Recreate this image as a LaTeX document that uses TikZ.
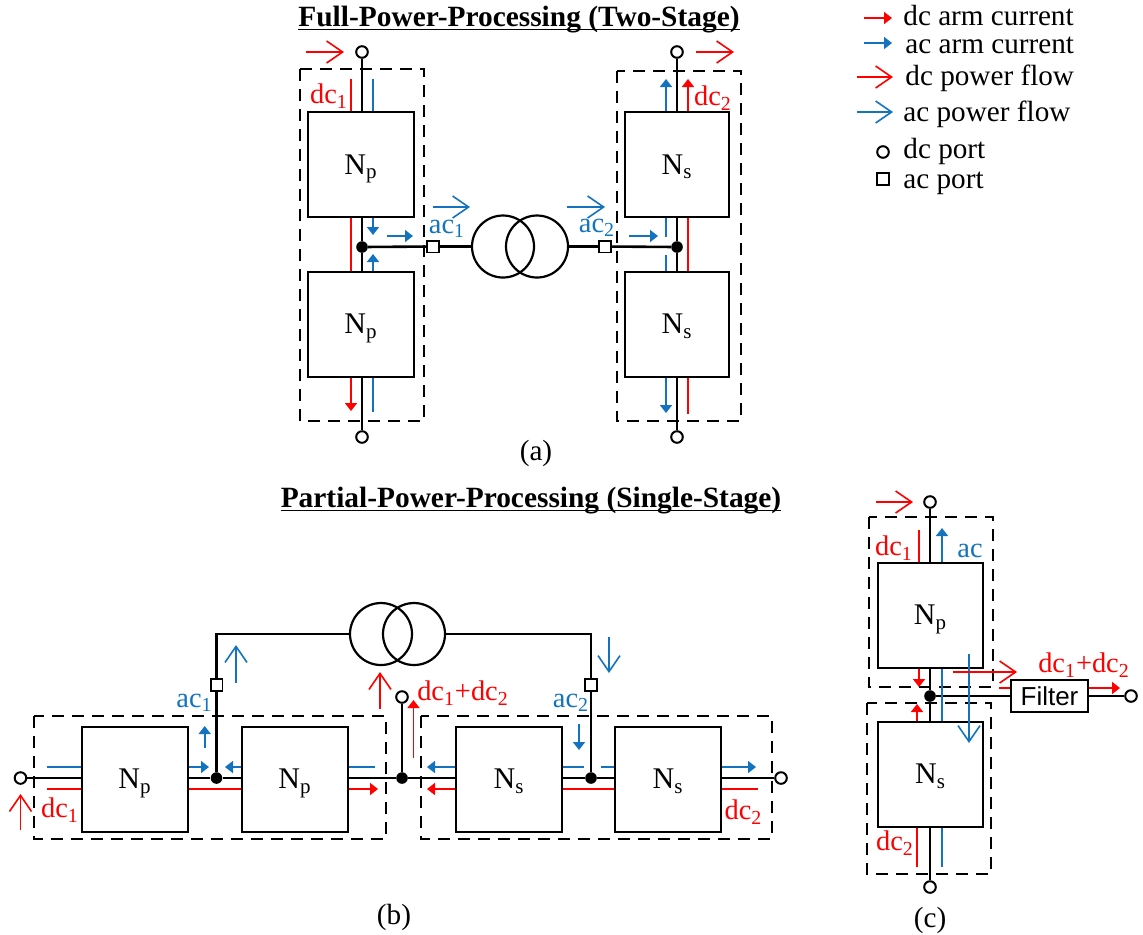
\documentclass[tikz,border=0pt]{standalone}
\usepackage{fontspec}
\setmainfont{Liberation Serif}
\setsansfont{Liberation Sans}
\usetikzlibrary{arrows.meta}
\definecolor{dcred}{RGB}{255,0,0}
\definecolor{acblue}{RGB}{20,115,190}
\newcommand{\bodyfont}{\fontsize{14.6}{18}\selectfont}
\newcommand{\labelfont}{\fontsize{14.2}{16}\selectfont}
\newcommand{\titletext}[1]{\underline{\raisebox{0pt}[\height][0pt]{#1}}}
\tikzset{
	wire/.style={line width=1.3pt},
	unit/.style={draw,line width=1pt,inner sep=0pt,minimum width=53pt,minimum height=52.5pt,text depth=0pt,font=\fontsize{15}{18}\selectfont},
	filterbox/.style={draw,line width=1pt,inner sep=0pt,minimum width=38.5pt,minimum height=16pt,font=\fontsize{13}{15}\selectfont\sffamily},
	port/.style={draw,circle,fill=white,line width=1pt,inner sep=0pt,minimum size=5.8pt},
	acport/.style={draw,rectangle,fill=white,line width=0.8pt,inner sep=0pt,minimum size=5.8pt},
	dot/.style={circle,fill=black,inner sep=0pt,minimum size=5.8pt},
	coil/.style={draw,circle,line width=1.1pt,inner sep=0pt,minimum size=31pt},
	groupbox/.style={dash pattern=on 6pt off 4pt,line width=0.75pt},
	dcline/.style={dcred,line width=0.8pt},
	acline/.style={acblue,line width=0.8pt},
	dcarm/.style={dcline,-{Triangle[length=4pt,width=6pt]}},
	acarm/.style={acline,-{Triangle[length=4pt,width=6pt]}},
	dcflow/.style={dcred,line width=0.8pt,-{Straight Barb[length=8pt,width=11pt]}},
	acflow/.style={acblue,line width=0.8pt,-{Straight Barb[length=8pt,width=11pt]}},
	title/.style={inner sep=0pt,font=\fontsize{14.7}{18}\selectfont\bfseries},
	legend/.style={anchor=west,inner sep=0pt,font=\bodyfont},
	caption/.style={font=\bodyfont},
	dclabel/.style={dcred,inner sep=0pt,font=\labelfont},
	aclabel/.style={acblue,inner sep=0pt,font=\labelfont}
}

\begin{document}
\begin{tikzpicture}[x=0.5pt,y=-0.5pt]
	\useasboundingbox (0,0) rectangle (1143,934);

	% Legend
	\node[legend] (lega) at (903,16) {dc arm current};
	\node[legend] (legb) at (905,45) {ac arm current};
	\node[legend] (legc) at (905,78) {dc power flow};
	\node[legend] (legd) at (903,114) {ac power flow};
	\node[legend] (lege) at (903,151) {dc port};
	\node[legend] (legf) at (903,183) {ac port};
	\coordinate (lg1) at (864,18);
	\draw[dcarm] (lg1) -- ++(28,0);
	\coordinate (lg2) at (864,43);
	\draw[acarm] (lg2) -- ++(28,0);
	\coordinate (lg3) at (857,77);
	\draw[dcflow] (lg3) -- ++(36,0);
	\coordinate (lg4) at (857,112);
	\draw[acflow] (lg4) -- ++(36,0);
	\node[port] (legport) at (883,152) {};
	\node[acport] (legsq) at (883,179) {};

	% (a) two-stage
	\node[title] (titlea) at (519,18) {\titletext{Full-Power-Processing (Two-Stage)}};
	\node[caption] (capa) at (536,453) {(a)};
	\draw[groupbox] (300,69) rectangle (424,421);
	\draw[groupbox] (617,71) rectangle (741,421);
	\node[unit] (npa) at (361,164.5) {N\textsubscript{p}};
	\node[unit] (npb) at (361,324) {N\textsubscript{p}};
	\node[unit,minimum width=52pt] (nsa) at (677,164.5) {N\textsubscript{s}};
	\node[unit,minimum width=52pt] (nsb) at (677,324) {N\textsubscript{s}};
	\node[port] (pa1) at (362,52) {};
	\node[port] (pa2) at (362,437) {};
	\node[port] (pa3) at (677,52) {};
	\node[port] (pa4) at (677,437) {};
	\node[dot] (ja) at (362,247) {};
	\node[dot] (jb) at (677,247) {};
	\node[acport] (qa) at (433,246.5) {};
	\node[acport] (qb) at (605,246.5) {};
	\node[coil] (ta1) at (503,246.5) {};
	\node[coil] (ta2) at (537,246.5) {};
	\draw[wire] (pa1) -- (pa1 |- npa.north);
	\draw[wire] (pa1 |- npa.south) -- (ja) -- (pa1 |- npb.north);
	\draw[wire] (pa1 |- npb.south) -- (pa2);
	\draw[wire] (pa3) -- (nsa);
	\draw[wire] (nsa) -- (jb) -- (nsb);
	\draw[wire] (nsb) -- (pa4);
	\draw[wire] (ja) -- (qa);
	\draw[wire] (qa) -- (ta1);
	\draw[wire] (ta2) -- (qb);
	\draw[wire] (qb) -- (jb);

	% (a) arm currents
	\coordinate (ar1) at (351,79);
	\draw[dcline] (ar1) -- (ar1 |- npa.north);
	\coordinate (ab1) at (373,79);
	\draw[acline] (ab1) -- (ab1 |- npa.north);
	\draw[dcline] (ar1 |- npa.south) -- (ar1 |- npb.north);
	\coordinate (ab2) at (373,235);
	\draw[acarm] (ab2 |- npa.south) -- (ab2);
	\coordinate (ab3) at (373,254);
	\draw[acarm] (ab3 |- npb.north) -- (ab3);
	\coordinate (ab4) at (387,236);
	\draw[acarm] (ab4) -- ++(26,0);
	\coordinate (ar2) at (351,411);
	\draw[dcarm] (ar2 |- npb.south) -- (ar2);
	\coordinate (ab5) at (373,412);
	\draw[acline] (ab5 |- npb.south) -- (ab5);
	\coordinate (ab6) at (666,79);
	\draw[acarm] (ab6 |- nsa.north) -- (ab6);
	\coordinate (ar3) at (688,79);
	\draw[dcarm] (ar3 |- nsa.north) -- (ar3);
	\draw[dcline] (ar3 |- nsa.south) -- (ar3 |- nsb.north);
	\coordinate (ab7) at (666,237);
	\draw[acline] (ab7 |- nsa.south) -- (ab7);
	\coordinate (ab8) at (666,255);
	\draw[acline] (ab8 |- nsb.north) -- (ab8);
	\coordinate (ab9) at (629,236);
	\draw[acarm] (ab9) -- ++(29,0);
	\coordinate (ab10) at (666,413);
	\draw[acarm] (ab10 |- nsb.south) -- (ab10);
	\coordinate (ar4) at (688,414);
	\draw[dcline] (ar4 |- nsb.south) -- (ar4);

	% (a) power flows
	\coordinate (fa1) at (306,52);
	\draw[dcflow] (fa1) -- ++(38,0);
	\coordinate (fa2) at (696,52);
	\draw[dcflow] (fa2) -- ++(38,0);
	\coordinate (fa3) at (433,207);
	\draw[acflow] (fa3) -- ++(37,0);
	\coordinate (fa4) at (567,207);
	\draw[acflow] (fa4) -- ++(38,0);
	\node[dclabel] (la1) at (329,96) {dc\textsubscript{1}};
	\node[dclabel] (la2) at (713,98) {dc\textsubscript{2}};
	\node[aclabel] (la3) at (447,229) {ac\textsubscript{1}};
	\node[aclabel] (la4) at (597,228) {ac\textsubscript{2}};

	% (b) single-stage
	\node[title] (titleb) at (531,499) {\titletext{Partial-Power-Processing (Single-Stage)}};
	\node[caption] (capb) at (394,917) {(b)};
	\draw[groupbox] (34,716) rectangle (386,839);
	\draw[groupbox] (421,716) rectangle (772,839);
	\node[unit] (npc) at (135,779) {N\textsubscript{p}};
	\node[unit] (npd) at (295,779) {N\textsubscript{p}};
	\node[unit] (nsc) at (509,779) {N\textsubscript{s}};
	\node[unit] (nsd) at (668,779) {N\textsubscript{s}};
	\node[port] (pb1) at (20.5,778) {};
	\node[port] (pb2) at (781,778) {};
	\node[port] (pb3) at (402,697) {};
	\node[dot] (jc) at (216.5,778) {};
	\node[dot] (jd) at (402,778) {};
	\node[dot] (je) at (591,778) {};
	\node[acport] (qc) at (216.5,685) {};
	\node[acport] (qd) at (591,685) {};
	\node[coil] (tb1) at (381,634) {};
	\node[coil] (tb2) at (414,634) {};
	\draw[wire] (pb1) -- (pb1 -| npc.west);
	\draw[wire] (npc.east |- jc) -- (jc) -- (npd.west |- jc);
	\draw[wire] (npd.east |- jd) -- (jd) -- (nsc.west |- jd);
	\draw[wire] (nsc.east |- je) -- (je) -- (nsd.west |- je);
	\draw[wire] (nsd.east |- pb2) -- (pb2);
	\draw[wire] (pb3) -- (jd);
	\draw[wire] (jc) -- (qc);
	\draw[wire] (je) -- (qd);
	\draw[wire] (qc) |- (tb1);
	\draw[wire] (qd) |- (tb2);

	% (b) arm currents
	\coordinate (bb1) at (47,767);
	\draw[acline] (bb1) -- (bb1 -| npc.west);
	\coordinate (br1) at (47,789);
	\draw[dcline] (br1) -- (br1 -| npc.west);
	\coordinate (bb2) at (209,767);
	\draw[acarm] (bb2 -| npc.east) -- (bb2);
	\draw[dcline] (br1 -| npc.east) -- (br1 -| npd.west);
	\coordinate (bb3) at (225,767);
	\draw[acarm] (bb3 -| npd.west) -- (bb3);
	\coordinate (bb4) at (375,767);
	\draw[acline] (bb4 -| npd.east) -- (bb4);
	\coordinate (br2) at (378,789);
	\draw[dcarm] (br2 -| npd.east) -- (br2);
	\coordinate (bb5) at (427,767);
	\draw[acarm] (bb5 -| nsc.west) -- (bb5);
	\coordinate (br3) at (427,789);
	\draw[dcarm] (br3 -| nsc.west) -- (br3);
	\coordinate (bb6) at (583.5,767);
	\draw[acline] (bb6 -| nsc.east) -- (bb6);
	\coordinate (bb7) at (601,767);
	\draw[acline] (bb7) -- (bb7 -| nsd.west);
	\draw[dcline] (br3 -| nsc.east) -- (br3 -| nsd.west);
	\coordinate (bb8) at (756,767);
	\draw[acarm] (bb8 -| nsd.east) -- (bb8);
	\coordinate (br4) at (758,789);
	\draw[dcline] (br4 -| nsd.east) -- (br4);
	\coordinate (bb9) at (204.7,748);
	\draw[acarm] (bb9) -- ++(0,-22);
	\coordinate (bb10) at (579,724);
	\draw[acarm] (bb10) -- ++(0,26);
	\coordinate (br5) at (413.5,758);
	\draw[dcarm] (br5) -- ++(0,-58);

	% (b) power flows
	\coordinate (fb1) at (236,683);
	\draw[acflow] (fb1) -- ++(0,-38);
	\coordinate (fb2) at (609,637);
	\draw[acflow] (fb2) -- ++(0,36);
	\coordinate (fb3) at (380,709);
	\draw[dcflow] (fb3) -- ++(0,-37);
	\coordinate (fb4) at (20.5,830);
	\draw[dcflow] (fb4) -- ++(0,-36);
	\node[aclabel] (lb1) at (194.5,703) {ac\textsubscript{1}};
	\node[aclabel] (lb2) at (571,703) {ac\textsubscript{2}};
	\node[dclabel] (lb3) at (463,693) {dc\textsubscript{1}+dc\textsubscript{2}};
	\node[dclabel] (lb4) at (60,810) {dc\textsubscript{1}};
	\node[dclabel] (lb5) at (743.5,812) {dc\textsubscript{2}};

	% (c) filter
	\node[caption] (capc) at (930,920) {(c)};
	\draw[groupbox] (869,517) rectangle (993,687);
	\draw[groupbox] (867,703) rectangle (991,874);
	\node[unit,minimum width=52.5pt] (npe) at (930.5,615) {N\textsubscript{p}};
	\node[unit,minimum width=52.5pt] (nse) at (930.5,774) {N\textsubscript{s}};
	\node[filterbox] (filt) at (1049.5,696) {Filter};
	\node[port] (pc1) at (930,502) {};
	\node[port] (pc2) at (930,887) {};
	\node[port] (pc3) at (1131,696) {};
	\node[dot] (jf) at (930,696) {};
	\draw[wire] (pc1) -- (pc1 |- npe.north);
	\draw[wire] (pc1 |- npe.south) -- (jf) -- (pc1 |- nse.north);
	\draw[wire] (pc1 |- nse.south) -- (pc2);
	\draw[wire] (jf) -- (filt);
	\draw[wire] (filt) -- (pc3);

	% (c) arm currents
	\coordinate (cr1) at (919,530);
	\draw[dcline] (cr1) -- (cr1 |- npe.north);
	\coordinate (cb1) at (942,528);
	\draw[acarm] (cb1 |- npe.north) -- (cb1);
	\coordinate (cr2) at (919,687);
	\draw[dcarm] (cr2 |- npe.south) -- (cr2);
	\draw[acline] (cb1 |- npe.south) -- (cb1 |- nse.north);
	\coordinate (cr3) at (917,704);
	\draw[dcarm] (cr3 |- nse.north) -- (cr3);
	\coordinate (cr4) at (917,867);
	\draw[dcline] (cr4 |- nse.south) -- (cr4);
	\coordinate (cb2) at (942,867);
	\draw[acline] (cb2 |- nse.south) -- (cb2);
	\coordinate (cr5) at (999,688);
	\draw[dcline] (cr5) -- (cr5 -| filt.west);
	\coordinate (cr6) at (1120,688);
	\draw[dcarm] (cr6 -| filt.east) -- (cr6);

	% (c) power flows
	\coordinate (fc1) at (876,502);
	\draw[dcflow] (fc1) -- ++(37,0);
	\coordinate (fc2) at (969,654);
	\draw[acflow] (fc2) -- ++(0,89);
	\coordinate (fc3) at (953,672);
	\draw[dcflow] (fc3) -- ++(64,0);
	\node[dclabel] (lc1) at (894,548) {dc\textsubscript{1}};
	\node[aclabel] (lc2) at (970,551) {ac};
	\node[dclabel] (lc3) at (1084,665) {dc\textsubscript{1}+dc\textsubscript{2}};
	\node[dclabel] (lc4) at (895,843) {dc\textsubscript{2}};
\end{tikzpicture}
\end{document}
